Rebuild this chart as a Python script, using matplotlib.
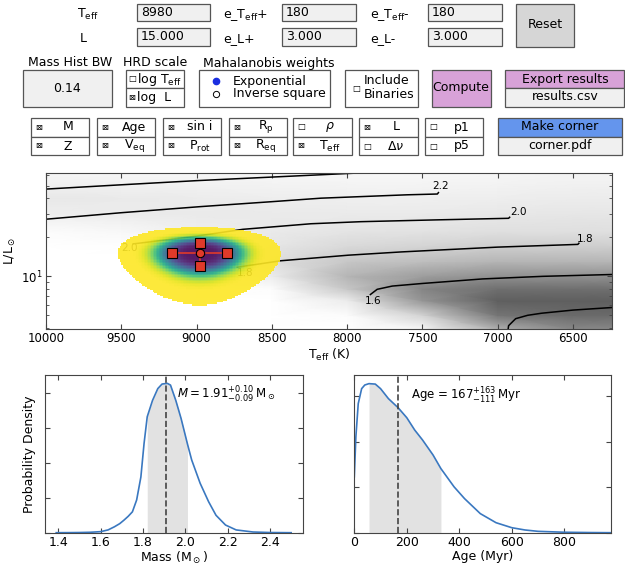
import numpy as np
import matplotlib.pyplot as plt
from matplotlib.patches import Rectangle

plt.rcParams['font.family'] = ['DejaVu Sans']
plt.rcParams['font.size'] = 9
plt.rcParams['xtick.direction'] = 'in'
plt.rcParams['ytick.direction'] = 'in'
plt.rcParams['xtick.top'] = True
plt.rcParams['ytick.right'] = True
plt.rcParams['xtick.major.pad'] = 2.5
plt.rcParams['ytick.major.pad'] = 2.5
plt.rcParams['axes.edgecolor'] = '#444444'
plt.rcParams['xtick.color'] = '#444444'
plt.rcParams['ytick.color'] = '#444444'
plt.rcParams['xtick.labelcolor'] = 'black'
plt.rcParams['ytick.labelcolor'] = 'black'

W, H = 625, 567

# observed star (values in the text boxes)
teff_obs, e_teff = 8980, 180
lum_obs, e_lum = 15.0, 3.0

# gray cloud of model points, read as rough shade on a coarse grid
cloud_teff = [10000, 9500, 9000, 8500, 8000, 7500, 7000, 6500, 6240]
cloud_lum = [3.93, 5, 6.5, 8, 10, 13, 17, 22, 30, 40, 52, 62.5]
cloud_density = [
    [0, 0, 0, 0, 0, 0.08, 0.42, 0.55, 0.55],
    [0, 0, 0, 0, 0.03, 0.28, 0.62, 0.66, 0.66],
    [0, 0, 0, 0, 0.15, 0.5, 0.7, 0.7, 0.7],
    [0, 0, 0, 0.03, 0.33, 0.56, 0.64, 0.64, 0.64],
    [0, 0, 0, 0.15, 0.4, 0.48, 0.52, 0.52, 0.52],
    [0, 0, 0.03, 0.22, 0.33, 0.37, 0.4, 0.4, 0.4],
    [0, 0.01, 0.06, 0.18, 0.25, 0.27, 0.3, 0.3, 0.3],
    [0.03, 0.06, 0.13, 0.16, 0.19, 0.2, 0.22, 0.22, 0.22],
    [0.13, 0.15, 0.16, 0.16, 0.16, 0.16, 0.17, 0.18, 0.18],
    [0.17, 0.16, 0.15, 0.14, 0.13, 0.13, 0.14, 0.15, 0.15],
    [0.12, 0.11, 0.11, 0.1, 0.09, 0.09, 0.1, 0.12, 0.12],
    [0.08, 0.08, 0.08, 0.07, 0.07, 0.07, 0.08, 0.1, 0.1],
]

# evolutionary tracks (Teff, log L)
tracks = {
    '2.4': ([10000, 9500, 9000, 8400, 7850, 7600],
            [1.672, 1.705, 1.737, 1.770, 1.800, 1.815]),
    '2.2': ([10000, 9500, 8973, 8500, 8173, 7600, 7400, 7393],
            [1.44, 1.49, 1.537, 1.575, 1.602, 1.628, 1.634, 1.645]),
    '2.0': ([9420, 9000, 8693, 8240, 7907, 7400, 6927, 6920],
            [1.25, 1.31, 1.362, 1.405, 1.421, 1.435, 1.447, 1.455]),
    '1.8': ([8730, 8440, 7990, 7640, 7000, 6467, 6460],
            [1.07, 1.12, 1.163, 1.188, 1.225, 1.246, 1.255]),
    '1.6': ([7845, 7800, 7700, 7500, 7100, 6700, 6213],
            [0.86, 0.9, 0.925, 0.945, 0.98, 1.0, 1.015]),
    '1.4': ([6935, 6927, 6880, 6800, 6707, 6500, 6213],
            [0.55, 0.62, 0.674, 0.70, 0.716, 0.74, 0.762]),
}
track_labels = [('2.2', 7380, 1.692), ('2.0', 6863, 1.494), ('1.8', 6417, 1.287),
                ('1.6', 7830, 0.809), ('2.0', 9446, 1.215), ('1.8', 8679, 1.029)]

# mass posterior
mass_x = [1.39, 1.45, 1.50, 1.55, 1.60, 1.635, 1.665, 1.69, 1.71, 1.73, 1.75, 1.77,
          1.79, 1.805, 1.82, 1.845, 1.87, 1.89, 1.915, 1.93, 1.955, 1.98, 2.01,
          2.03, 2.07, 2.11, 2.145, 2.19, 2.24, 2.32, 2.40, 2.50]
mass_pdf = [0, 0.002, 0.005, 0.012, 0.03, 0.08, 0.17, 0.26, 0.36, 0.47, 0.6, 0.94,
            1.6, 2.56, 3.33, 3.8, 4.14, 4.27, 4.29, 4.24, 3.8, 3.28, 2.55,
            2.09, 1.42, 0.89, 0.5, 0.22, 0.08, 0.02, 0.005, 0]
mass_med, mass_lo, mass_hi = 1.91, 1.82, 2.01

# age posterior (density x 1e3)
age_x = [0, 6, 15, 28, 40, 56, 80, 100, 130, 167, 200, 230, 260, 300, 330, 380,
         420, 480, 540, 600, 650, 700, 800, 900, 978]
age_pdf = [1.23, 2.11, 2.84, 3.17, 3.25, 3.28, 3.27, 3.17, 2.95, 2.75, 2.53, 2.26,
           2.04, 1.71, 1.41, 1.01, 0.75, 0.42, 0.22, 0.11, 0.06, 0.03, 0.01, 0.003, 0]
age_med, age_lo, age_hi = 167, 56, 330

fig = plt.figure(figsize=(W / 100, H / 100), dpi=100)

# ---- widget panel drawn in pixel coordinates ----
ui = fig.add_axes([0, 0, 1, 1])
ui.set_xlim(0, W)
ui.set_ylim(H, 0)
ui.axis('off')


def box(x0, y0, x1, y1, fc='white'):
    ui.add_patch(Rectangle((x0, y0), x1 - x0, y1 - y0, fc=fc, ec='#555555', lw=0.9))


def txt(x, y, s, ha='center', size=9, **kw):
    ui.text(x, y, s, ha=ha, va='center', fontsize=size, **kw)


field = '#f0f0f0'
plum = '#d8a2d8'
tick_on, tick_off = '\u22a0', '\u25a1'

txt(88, 14, r'T$_\mathrm{eff}$')
txt(83, 38, 'L')
txt(223, 15, r'e_T$_\mathrm{eff}$+', ha='left')
txt(223, 39, 'e_L+', ha='left')
txt(370, 15, r'e_T$_\mathrm{eff}$-', ha='left')
txt(370, 39, 'e_L-', ha='left')
for (x0, x1), vals in zip([(137, 210), (282, 356), (428, 502)],
                          [('8980', '15.000'), ('180', '3.000'), ('180', '3.000')]):
    box(x0, 4, x1, 21, field)
    box(x0, 28, x1, 46, field)
    txt(x0 + 4, 12, vals[0], ha='left')
    txt(x0 + 4, 36, vals[1], ha='left')
box(516, 4, 574, 47, '#d6d6d6')
txt(545, 25, 'Reset')

txt(70, 63, 'Mass Hist BW')
box(23, 70, 112, 107, field)
txt(67, 88, '0.14')

txt(155, 63, 'HRD scale')
box(126, 70, 184, 88)
box(126, 88, 184, 107)
txt(132, 79, tick_off, size=6)
txt(137, 79, 'log T$_\\mathrm{eff}$', ha='left')
txt(132, 97, tick_on, size=6)
txt(137, 97, 'log  L', ha='left')

txt(203, 63, 'Mahalanobis weights', ha='left')
box(199, 70, 330, 107)
ui.plot(216, 81, 'o', ms=4.5, color='#1a2ee0')
ui.plot(216, 94, 'o', ms=4.5, mfc='white', mec='black', mew=0.7)
txt(233, 81, 'Exponential', ha='left')
txt(233, 94, 'Inverse square', ha='left')

box(345, 70, 418, 107)
txt(356, 89, tick_off, size=6)
txt(364, 81, 'Include', ha='left')
txt(364, 95, 'Binaries', ha='left')

box(432, 70, 491, 107, plum)
txt(461, 88, 'Compute')
box(505, 70, 624, 88, plum)
box(505, 88, 624, 107, field)
txt(565, 79, 'Export results')
txt(565, 97, 'results.csv')

checks = [
    (31, 89, (tick_on, 'M'), (tick_on, 'Z')),
    (97, 155, (tick_on, 'Age'), (tick_on, r'V$_\mathrm{eq}$')),
    (163, 221, (tick_on, 'sin i'), (tick_on, r'P$_\mathrm{rot}$')),
    (229, 287, (tick_on, r'R$_\mathrm{p}$'), (tick_on, r'R$_\mathrm{eq}$')),
    (293, 352, (tick_off, r'$\rho$'), (tick_on, r'T$_\mathrm{eff}$')),
    (359, 418, (tick_on, 'L'), (tick_off, r'$\Delta\nu$')),
    (425, 483, (tick_off, 'p1'), (tick_off, 'p5')),
]
for x0, x1, top, bot in checks:
    box(x0, 118, x1, 137)
    box(x0, 137, x1, 155)
    for (glyph, lab), yy in [(top, 127), (bot, 146)]:
        txt(x0 + 8, yy, glyph, size=6)
        txt(x0 + 37, yy, lab)
box(498, 118, 622, 137, '#6495ed')
box(498, 137, 622, 155, field)
txt(560, 127, 'Make corner')
txt(560, 146, 'corner.pdf')

# ---- HR diagram ----
ax = fig.add_axes([46 / W, 1 - 329 / H, 566 / W, 156 / H])
ax.set_yscale('log')
CT, CL = np.meshgrid(cloud_teff, cloud_lum)
ax.pcolormesh(CT, CL, np.array(cloud_density), shading='gouraud', cmap='Greys',
              vmin=0, vmax=1, zorder=1)
for name, (tt, ll) in tracks.items():
    ax.plot(tt, 10 ** np.array(ll), color='black', lw=1.1, zorder=2)
for lab, tt, ll in track_labels:
    ax.text(tt, 10 ** ll, lab, fontsize=7.5, ha='center', va='center', zorder=2)

# Mahalanobis weight map around the observed point, cut at 3 sigma
grid_t = np.linspace(10000, 6240, 380)
grid_l = 10 ** np.linspace(np.log10(3.93), np.log10(62.5), 104)
TT, LL = np.meshgrid(grid_t, grid_l)
d2 = ((TT - teff_obs) / e_teff) ** 2 + ((LL - lum_obs) / e_lum) ** 2
wmap = np.ma.masked_where(d2 > 9, 1 - np.exp(-(d2 / 2.5) ** 2))
ax.pcolormesh(TT, LL, wmap, shading='nearest', cmap='viridis', vmin=0, vmax=1,
              alpha=0.9, zorder=3, rasterized=True)

red = '#e03a2a'
ax.plot([teff_obs - e_teff, teff_obs + e_teff], [lum_obs, lum_obs], color=red, lw=1.2, zorder=4)
ax.plot([teff_obs, teff_obs], [lum_obs - e_lum, lum_obs + e_lum], color=red, lw=1.2, zorder=4)
ax.plot([teff_obs - e_teff, teff_obs + e_teff, teff_obs, teff_obs],
        [lum_obs, lum_obs, lum_obs + e_lum, lum_obs - e_lum], 's', ms=6.5,
        mfc=red, mec='black', mew=0.8, zorder=5)
ax.plot(teff_obs, lum_obs, 'o', ms=6, mfc=red, mec='black', mew=0.8, zorder=5)

ax.set_xlim(10000, 6240)
ax.set_ylim(3.93, 62.5)
ax.set_xticks([10000, 9500, 9000, 8500, 8000, 7500, 7000, 6500])
ax.tick_params(labelsize=8.5)
ax.set_xlabel(r'T$_\mathrm{eff}$ (K)', fontsize=9, labelpad=1)
ax.set_ylabel(r'L/L$_\odot$', fontsize=9, labelpad=2)

# ---- mass posterior ----
axm = fig.add_axes([45 / W, 1 - 532.7 / H, 258 / W, 157.7 / H])
mx = np.array(mass_x)
my = np.array(mass_pdf)
axm.fill_between(mx, my, where=(mx >= mass_lo) & (mx <= mass_hi), color='#e2e2e2', lw=0)
axm.plot(mx, my, color='#3a78c0', lw=1.2)
axm.axvline(mass_med, color='#444444', ls='--', lw=1.2)
axm.set_xlim(1.337, 2.556)
axm.set_ylim(0, 4.53)
axm.set_xticks([1.4, 1.6, 1.8, 2.0, 2.2, 2.4])
axm.set_yticks([0, 1, 2, 3, 4])
axm.set_yticklabels([])
axm.tick_params(labelsize=9)
axm.set_xlabel(r'Mass (M$_\odot$)', fontsize=9, labelpad=0.5)
axm.set_ylabel('Probability Density', fontsize=9)
axm.text(1.96, 3.95, r'$M = 1.91^{+0.10}_{-0.09}\,\mathrm{M}_\odot$', fontsize=8.5,
         ha='left', va='center')

# ---- age posterior ----
axa = fig.add_axes([354.3 / W, 1 - 532.7 / H, 256.7 / W, 157.7 / H])
axx = np.array(age_x)
ayy = np.array(age_pdf)
axa.fill_between(axx, ayy, where=(axx >= age_lo) & (axx <= age_hi), color='#e2e2e2', lw=0)
axa.plot(axx, ayy, color='#3a78c0', lw=1.2)
axa.axvline(age_med, color='#444444', ls='--', lw=1.2)
axa.set_xlim(0, 978)
axa.set_ylim(0, 3.47)
axa.set_xticks([0, 200, 400, 600, 800])
axa.set_yticks([0, 1, 2, 3])
axa.set_yticklabels([])
axa.tick_params(labelsize=9)
axa.set_xlabel('Age (Myr)', fontsize=9, labelpad=0.5)
axa.text(215, 3.02, r'Age$\,=167^{+163}_{-111}\,$Myr', fontsize=8.5, ha='left', va='center')

fig.savefig('out.png', dpi=100)
